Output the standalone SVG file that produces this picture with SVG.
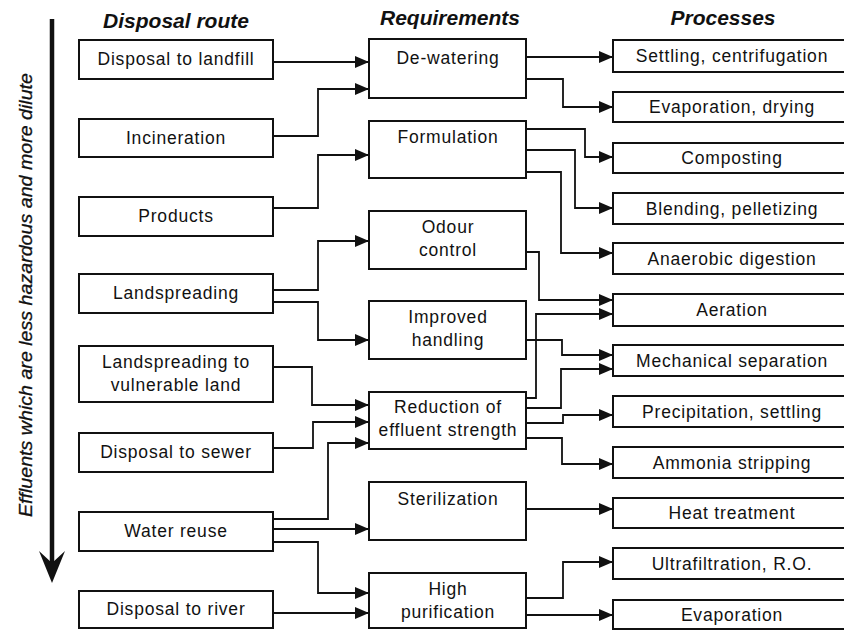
<svg xmlns="http://www.w3.org/2000/svg" width="844" height="630" viewBox="0 0 844 630">
<style>
.box{fill:#fff;stroke:#111;stroke-width:2}
.t{font-family:"Liberation Sans",Arial,sans-serif;font-size:17.5px;letter-spacing:0.8px;fill:#111;text-anchor:middle}
.h{font-family:"Liberation Sans",Arial,sans-serif;font-size:21px;font-weight:bold;font-style:italic;fill:#111;text-anchor:middle}
.c{fill:none;stroke:#111;stroke-width:1.8;marker-end:url(#ah)}
</style>
<defs>
<marker id="ah" markerUnits="userSpaceOnUse" markerWidth="14" markerHeight="12" refX="14" refY="6" orient="auto">
<path d="M0,0 L14,6 L0,12 z" fill="#111"/>
</marker>
</defs>
<rect width="844" height="630" fill="#fff"/>
<g id="axis">
<line x1="52" y1="19" x2="52" y2="565" stroke="#111" stroke-width="4.5"/>
<polygon points="39,551 52,563 65,551 52,583" fill="#111"/>
<text transform="translate(32,295) rotate(-90)" font-family="'Liberation Sans',Arial,sans-serif" font-size="19" font-style="italic" fill="#111" stroke="#111" stroke-width="0.3" text-anchor="middle" textLength="444" lengthAdjust="spacingAndGlyphs">Effluents which are less hazardous and more dilute</text>
</g>
<g id="headers">
<text class="h" x="176" y="28">Disposal route</text>
<text class="h" x="450" y="25">Requirements</text>
<text class="h" x="723" y="25">Processes</text>
</g>
<g id="connectors">
<path class="c" d="M273,62 H369"/>
<path class="c" d="M273,136 H318 V89 H369"/>
<path class="c" d="M273,208 H318 V155 H369"/>
<path class="c" d="M273,290 H318 V241 H369"/>
<path class="c" d="M273,302 H318 V340 H369"/>
<path class="c" d="M273,367 H312 V405 H369"/>
<path class="c" d="M273,448 H313 V422 H369"/>
<path class="c" d="M273,519 H328 V443 H369"/>
<path class="c" d="M273,529 H369"/>
<path class="c" d="M273,542 H318 V593 H369"/>
<path class="c" d="M273,613 H369"/>
<path class="c" d="M526,57 H613"/>
<path class="c" d="M526,79 H563 V107 H613"/>
<path class="c" d="M526,129 H585 V157 H613"/>
<path class="c" d="M526,150 H575 V208 H613"/>
<path class="c" d="M526,172 H561 V253 H613"/>
<path class="c" d="M526,252 H539 V300 H613"/>
<path class="c" d="M526,398 H536 V314 H613"/>
<path class="c" d="M526,340 H562 V355 H613"/>
<path class="c" d="M526,408 H561 V369 H613"/>
<path class="c" d="M526,423 H563 V415 H613"/>
<path class="c" d="M526,438 H562 V464 H613"/>
<path class="c" d="M526,509 H613"/>
<path class="c" d="M526,598 H563 V562 H613"/>
<path class="c" d="M526,615 H613"/>
</g>
<g id="L1"><rect class="box" x="79" y="40" width="194" height="39"/><text class="t" x="176" y="65">Disposal to landfill</text></g>
<g id="L2"><rect class="box" x="79" y="119" width="194" height="38"/><text class="t" x="176" y="144">Incineration</text></g>
<g id="L3"><rect class="box" x="79" y="197" width="194" height="39"/><text class="t" x="176" y="222">Products</text></g>
<g id="L4"><rect class="box" x="79" y="274" width="194" height="39"/><text class="t" x="176" y="299">Landspreading</text></g>
<g id="L5"><rect class="box" x="79" y="346" width="194" height="56"/><text class="t" x="176" y="368">Landspreading to</text><text class="t" x="176" y="391">vulnerable land</text></g>
<g id="L6"><rect class="box" x="79" y="433" width="194" height="39"/><text class="t" x="176" y="458">Disposal to sewer</text></g>
<g id="L7"><rect class="box" x="79" y="512" width="194" height="39"/><text class="t" x="176" y="537">Water reuse</text></g>
<g id="L8"><rect class="box" x="79" y="591" width="194" height="37"/><text class="t" x="176" y="615">Disposal to river</text></g>
<g id="M1"><rect class="box" x="369" y="39" width="157" height="59"/><text class="t" x="448" y="64">De-watering</text></g>
<g id="M2"><rect class="box" x="369" y="121" width="157" height="57"/><text class="t" x="448" y="143">Formulation</text></g>
<g id="M3"><rect class="box" x="369" y="211" width="157" height="58"/><text class="t" x="448" y="233">Odour</text><text class="t" x="448" y="256">control</text></g>
<g id="M4"><rect class="box" x="369" y="301" width="157" height="58"/><text class="t" x="448" y="323">Improved</text><text class="t" x="448" y="346">handling</text></g>
<g id="M5"><rect class="box" x="369" y="392" width="157" height="57"/><text class="t" x="448" y="413">Reduction of</text><text class="t" x="448" y="436">effluent strength</text></g>
<g id="M6"><rect class="box" x="369" y="482" width="157" height="58"/><text class="t" x="448" y="505">Sterilization</text></g>
<g id="M7"><rect class="box" x="369" y="573" width="157" height="55"/><text class="t" x="448" y="595">High</text><text class="t" x="448" y="618">purification</text></g>
<g id="R1"><rect class="box" x="613" y="40" width="240" height="32"/><text class="t" x="732" y="62">Settling, centrifugation</text></g>
<g id="R2"><rect class="box" x="613" y="92" width="240" height="30"/><text class="t" x="732" y="113">Evaporation, drying</text></g>
<g id="R3"><rect class="box" x="613" y="143" width="240" height="30"/><text class="t" x="732" y="164">Composting</text></g>
<g id="R4"><rect class="box" x="613" y="193" width="240" height="31"/><text class="t" x="732" y="215">Blending, pelletizing</text></g>
<g id="R5"><rect class="box" x="613" y="243" width="240" height="31"/><text class="t" x="732" y="265">Anaerobic digestion</text></g>
<g id="R6"><rect class="box" x="613" y="294" width="240" height="32"/><text class="t" x="732" y="316">Aeration</text></g>
<g id="R7"><rect class="box" x="613" y="345" width="240" height="31"/><text class="t" x="732" y="367">Mechanical separation</text></g>
<g id="R8"><rect class="box" x="613" y="396" width="240" height="31"/><text class="t" x="732" y="418">Precipitation, settling</text></g>
<g id="R9"><rect class="box" x="613" y="447" width="240" height="31"/><text class="t" x="732" y="469">Ammonia stripping</text></g>
<g id="R10"><rect class="box" x="613" y="498" width="240" height="30"/><text class="t" x="732" y="519">Heat treatment</text></g>
<g id="R11"><rect class="box" x="613" y="548" width="240" height="31"/><text class="t" x="732" y="570">Ultrafiltration, R.O.</text></g>
<g id="R12"><rect class="box" x="613" y="600" width="240" height="29"/><text class="t" x="732" y="621">Evaporation</text></g>
</svg>
